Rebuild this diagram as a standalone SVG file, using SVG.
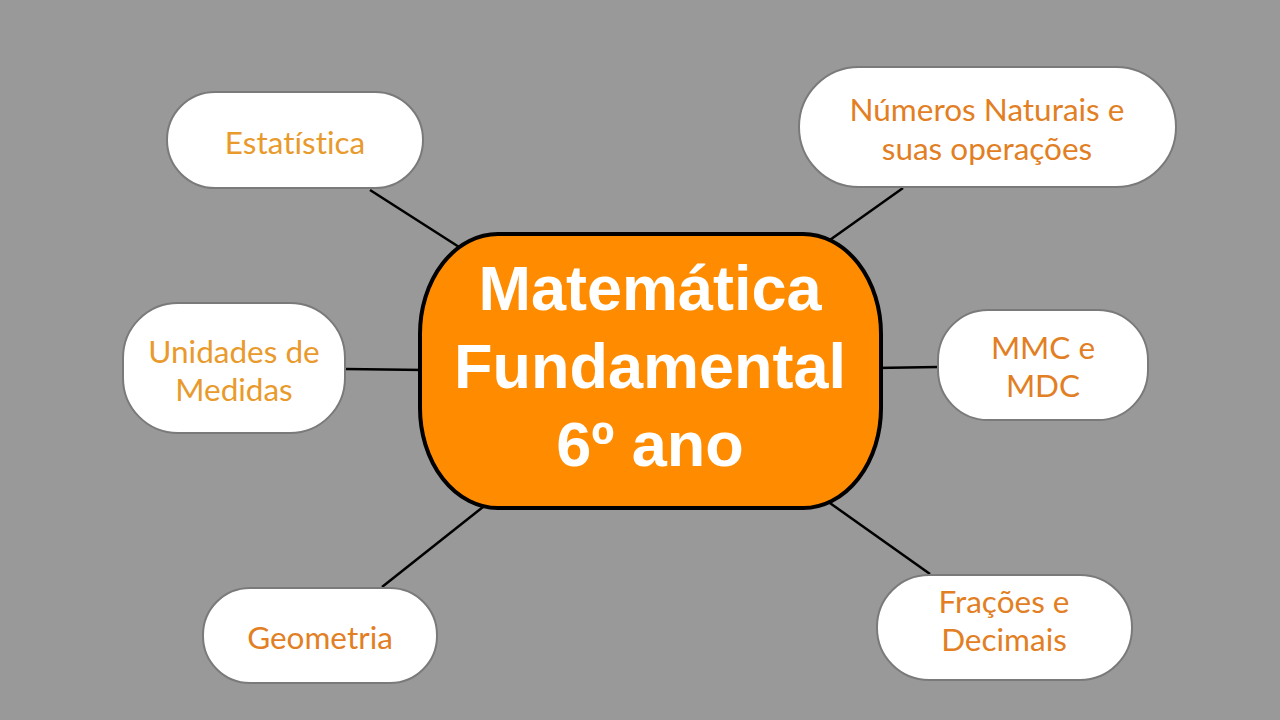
<svg xmlns="http://www.w3.org/2000/svg" width="1280" height="720" viewBox="0 0 1280 720">
<style>
.bg{fill:#999999}
.edge{stroke:#000;stroke-width:2.5;fill:none}
.sat{fill:#fff;stroke:#7a7a7a;stroke-width:2}
.st{font-family:Lato,"Noto Sans",sans-serif;font-size:31.5px;text-anchor:middle;fill:#E27F24;font-variant-ligatures:none}
.st.light{fill:#E99A2C}
.center{fill:#FF8C00;stroke:#000;stroke-width:4}
.ct{font-family:"Liberation Sans",Arial,sans-serif;font-weight:bold;font-size:63px;text-anchor:middle;fill:#fff}
</style>
<rect class="bg" x="0" y="0" width="1280" height="720"/>
<g id="connectors">
<line class="edge" x1="370" y1="190" x2="470" y2="254"/>
<line class="edge" x1="903" y1="188" x2="820" y2="247"/>
<line class="edge" x1="345" y1="369" x2="425" y2="370"/>
<line class="edge" x1="875" y1="368" x2="938" y2="367"/>
<line class="edge" x1="382" y1="587" x2="488" y2="503"/>
<line class="edge" x1="930" y1="574" x2="820" y2="496"/>
</g>
<g id="center">
<rect class="center" x="420" y="234" width="461" height="274" rx="78" ry="100"/>
<text class="ct" x="650" y="310">Matemática</text>
<text class="ct" x="650" y="388">Fundamental</text>
<text class="ct" x="650" y="466">6º ano</text>
</g>
<g id="estatistica">
<rect class="sat" x="167" y="92" width="256" height="96" rx="48" ry="48"/>
<text class="st light" x="295" y="154">Estatística</text>
</g>
<g id="numeros">
<rect class="sat" x="799" y="67" width="377" height="120" rx="60" ry="60"/>
<text class="st" x="987" y="121">Números Naturais e</text>
<text class="st" x="987" y="160">suas operações</text>
</g>
<g id="unidades">
<rect class="sat" x="123" y="303" width="222" height="130" rx="55" ry="55"/>
<text class="st light" x="234" y="363">Unidades de</text>
<text class="st light" x="234" y="401">Medidas</text>
</g>
<g id="mmc">
<rect class="sat" x="938" y="310" width="210" height="110" rx="50" ry="50"/>
<text class="st" x="1043" y="359">MMC e</text>
<text class="st" x="1043" y="397">MDC</text>
</g>
<g id="geometria">
<rect class="sat" x="203" y="588" width="234" height="95" rx="47" ry="47"/>
<text class="st" x="320" y="649">Geometria</text>
</g>
<g id="fracoes">
<rect class="sat" x="877" y="575" width="255" height="105" rx="52" ry="52"/>
<text class="st" x="1004" y="613">Frações e</text>
<text class="st" x="1004" y="651">Decimais</text>
</g>
</svg>
